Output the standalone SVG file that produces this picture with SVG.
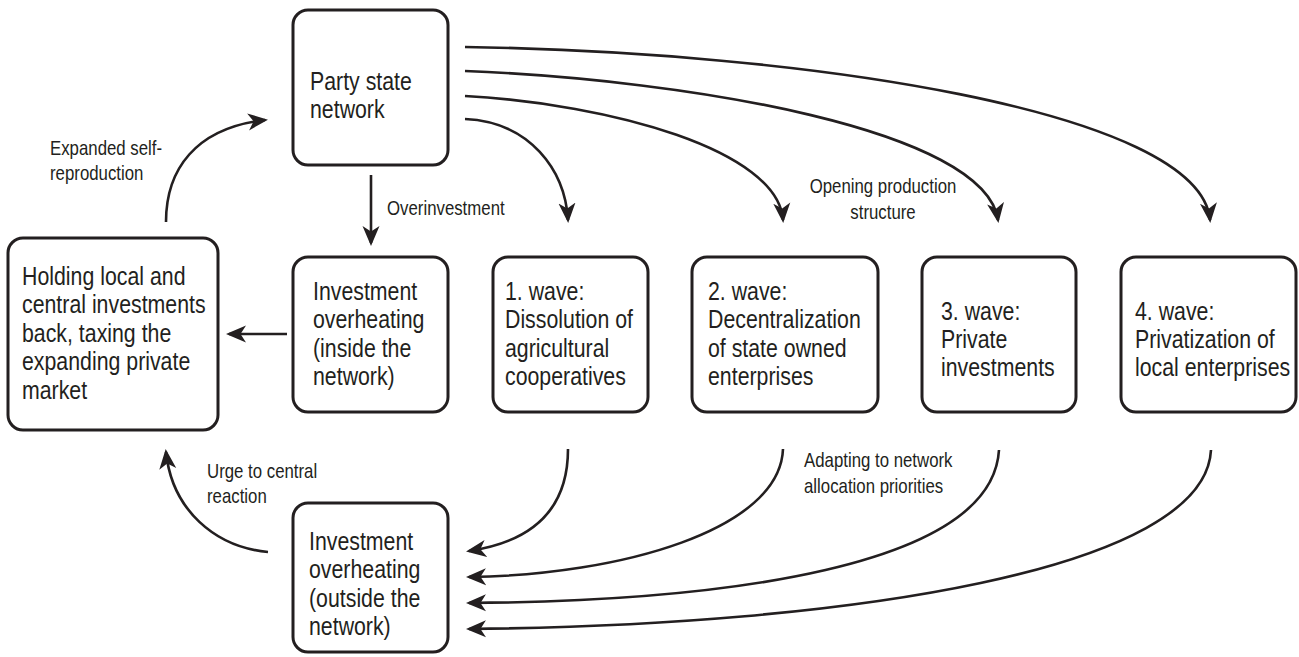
<svg xmlns="http://www.w3.org/2000/svg" width="1299" height="657" viewBox="0 0 1299 657">
<style>
.box{fill:#fff;stroke:#231f20;stroke-width:3}
.t{font-family:"Liberation Sans",Arial,sans-serif;font-size:26px;fill:#231f20}
.l{font-family:"Liberation Sans",Arial,sans-serif;font-size:20.5px;fill:#231f20}
.c{fill:none;stroke:#231f20;stroke-width:2.6;marker-end:url(#ah)}
</style>
<defs>
<marker id="ah" markerUnits="userSpaceOnUse" viewBox="0 0 20 18" refX="17" refY="9" markerWidth="20" markerHeight="18" orient="auto">
<path d="M0,0.5 L20,9 L0,17.5 L5.5,9 Z" fill="#231f20"/>
</marker>
</defs>
<rect width="1299" height="657" fill="#fff"/>
<g id="connectors">
<path class="c" d="M166,222 C166,170 195,128 265,120"/>
<path class="c" d="M371,175 L371,243"/>
<path class="c" d="M287,334 L229,334"/>
<path class="c" d="M465,119 C530,122 565,170 568,220"/>
<path class="c" d="M465,96 C610,104 778,150 783,220"/>
<path class="c" d="M465,71 C690,80 985,130 998,220"/>
<path class="c" d="M465,47 C800,52 1200,110 1210,220"/>
<path class="c" d="M568,449 C568,512 530,542 469,551"/>
<path class="c" d="M783,449 C780,530 620,575 469,577"/>
<path class="c" d="M999,450 C992,568 720,601 469,603"/>
<path class="c" d="M1211,450 C1205,570 850,625 469,629"/>
<path class="c" d="M268,552 C215,547 172,510 166,452"/>
</g>
<g id="party">
<rect class="box" x="293" y="10" width="155" height="155" rx="15"/>
<g transform="translate(310,0) scale(0.82,1)">
<text class="t" x="0" y="90">Party state</text>
<text class="t" x="0" y="118.5">network</text>
</g>
</g>
<g id="holding">
<rect class="box" x="8" y="238" width="210" height="192" rx="15"/>
<g transform="translate(22,0) scale(0.82,1)">
<text class="t" x="0" y="285">Holding local and</text>
<text class="t" x="0" y="313.5">central investments</text>
<text class="t" x="0" y="342">back, taxing the</text>
<text class="t" x="0" y="370.5">expanding private</text>
<text class="t" x="0" y="399">market</text>
</g>
</g>
<g id="inside">
<rect class="box" x="293" y="257" width="155" height="155" rx="15"/>
<g transform="translate(313,0) scale(0.82,1)">
<text class="t" x="0" y="300">Investment</text>
<text class="t" x="0" y="328.5">overheating</text>
<text class="t" x="0" y="357">(inside the</text>
<text class="t" x="0" y="385.5">network)</text>
</g>
</g>
<g id="wave1">
<rect class="box" x="493" y="257" width="155" height="155" rx="15"/>
<g transform="translate(505,0) scale(0.82,1)">
<text class="t" x="0" y="300">1. wave:</text>
<text class="t" x="0" y="328.5">Dissolution of</text>
<text class="t" x="0" y="357">agricultural</text>
<text class="t" x="0" y="385.5">cooperatives</text>
</g>
</g>
<g id="wave2">
<rect class="box" x="692" y="257" width="186" height="155" rx="15"/>
<g transform="translate(708,0) scale(0.82,1)">
<text class="t" x="0" y="300">2. wave:</text>
<text class="t" x="0" y="328.5">Decentralization</text>
<text class="t" x="0" y="357">of state owned</text>
<text class="t" x="0" y="385.5">enterprises</text>
</g>
</g>
<g id="wave3">
<rect class="box" x="922" y="257" width="154" height="155" rx="15"/>
<g transform="translate(941,0) scale(0.82,1)">
<text class="t" x="0" y="320">3. wave:</text>
<text class="t" x="0" y="348">Private</text>
<text class="t" x="0" y="376">investments</text>
</g>
</g>
<g id="wave4">
<rect class="box" x="1121" y="257" width="175" height="155" rx="15"/>
<g transform="translate(1135,0) scale(0.82,1)">
<text class="t" x="0" y="320">4. wave:</text>
<text class="t" x="0" y="348">Privatization of</text>
<text class="t" x="0" y="376">local enterprises</text>
</g>
</g>
<g id="outside">
<rect class="box" x="293" y="503" width="155" height="149" rx="15"/>
<g transform="translate(309,0) scale(0.82,1)">
<text class="t" x="0" y="550">Investment</text>
<text class="t" x="0" y="578">overheating</text>
<text class="t" x="0" y="607">(outside the</text>
<text class="t" x="0" y="635">network)</text>
</g>
</g>
<g id="labels">
<g transform="translate(50,0) scale(0.82,1)">
<text class="l" x="0" y="155">Expanded self-</text>
<text class="l" x="0" y="180">reproduction</text>
</g>
<g transform="translate(387,0) scale(0.82,1)">
<text class="l" x="0" y="215">Overinvestment</text>
</g>
<g transform="translate(883,0) scale(0.82,1)">
<text class="l" x="0" y="193" text-anchor="middle">Opening production</text>
<text class="l" x="0" y="219" text-anchor="middle">structure</text>
</g>
<g transform="translate(804,0) scale(0.82,1)">
<text class="l" x="0" y="467">Adapting to network</text>
<text class="l" x="0" y="493">allocation priorities</text>
</g>
<g transform="translate(207,0) scale(0.82,1)">
<text class="l" x="0" y="478">Urge to central</text>
<text class="l" x="0" y="503">reaction</text>
</g>
</g>
</svg>
